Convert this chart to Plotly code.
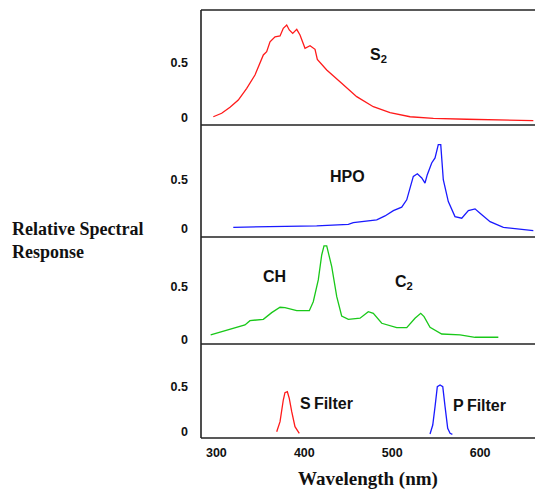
import plotly.graph_objects as go

# ---- data (wavelength nm, relative response) ----
s2_wl = [296.5, 306.0, 315.5, 324.9, 334.5, 343.9, 353.4, 357.2, 361.0, 366.7, 372.4, 376.1, 380.0,
         382.9, 386.8, 391.4, 395.1, 400.8, 406.5, 412.2, 414.8, 425.5, 442.5, 459.6, 478.5, 497.5,
         520.3, 546.8, 584.8, 622.6, 660.5]
s2_val = [0.005, 0.037, 0.092, 0.158, 0.266, 0.387, 0.571, 0.601, 0.692, 0.738, 0.745, 0.815, 0.845,
          0.800, 0.769, 0.806, 0.754, 0.632, 0.656, 0.623, 0.531, 0.433, 0.311, 0.189, 0.097, 0.042,
          0.005, -0.009, -0.018, -0.025, -0.031]

hpo_wl = [319.2, 376.1, 414.1, 450.1, 455.7, 482.4, 491.8, 501.3, 510.8, 516.5, 520.3, 524.0, 528.6,
          533.6, 537.3, 539.9, 544.9, 548.7, 552.4, 555.2, 558.1, 563.8, 571.4, 579.1, 586.6, 594.2,
          599.9, 611.3, 626.4, 641.6, 660.5]
hpo_val = [0.010, 0.017, 0.024, 0.041, 0.058, 0.086, 0.127, 0.182, 0.217, 0.293, 0.431, 0.534, 0.562,
           0.518, 0.466, 0.552, 0.673, 0.725, 0.862, 0.862, 0.500, 0.275, 0.120, 0.104, 0.182, 0.200,
           0.155, 0.068, 0.010, -0.007, -0.025]

ch_wl = [293.5, 311.7, 332.5, 338.2, 353.4, 362.9, 372.4, 378.0, 391.4, 405.7, 410.2, 415.9, 419.8,
         422.4, 425.5, 431.2, 436.9, 442.5, 450.1, 463.4, 472.8, 478.5, 488.1, 505.1, 516.5, 525.9,
         532.4, 536.2, 543.0, 556.3, 577.1, 594.2, 620.7]
ch_val = [0.041, 0.088, 0.136, 0.177, 0.190, 0.253, 0.304, 0.300, 0.272, 0.272, 0.357, 0.564, 0.801,
          0.887, 0.887, 0.690, 0.405, 0.221, 0.190, 0.200, 0.262, 0.247, 0.152, 0.110, 0.110, 0.200,
          0.247, 0.215, 0.114, 0.050, 0.041, 0.019, 0.019]

sf_wl = [368.6, 372.4, 376.1, 378.0, 380.7, 382.9, 385.7, 389.4, 394.3]
sf_val = [0.0, 0.111, 0.352, 0.433, 0.444, 0.370, 0.222, 0.056, -0.018]

pf_wl = [543.0, 546.1, 548.7, 551.3, 554.4, 557.5, 560.1, 563.1, 565.8, 568.4]
pf_val = [-0.026, 0.074, 0.278, 0.500, 0.519, 0.500, 0.278, 0.038, -0.018, -0.029]

x_ticks = [300, 400, 500, 600]
y_ticks = [0, 0.5]
y_ticktext = ["<b>0</b>", "<b>0.5</b>"]

RED = "#ff1a1a"
BLUE = "#1a1aff"
GREEN = "#19c819"

fig = go.Figure()
fig.add_trace(go.Scatter(x=s2_wl, y=s2_val, mode="lines", line=dict(color=RED, width=1.3), yaxis="y4", xaxis="x"))
fig.add_trace(go.Scatter(x=hpo_wl, y=hpo_val, mode="lines", line=dict(color=BLUE, width=1.3), yaxis="y3", xaxis="x"))
fig.add_trace(go.Scatter(x=ch_wl, y=ch_val, mode="lines", line=dict(color=GREEN, width=1.3), yaxis="y2", xaxis="x"))
fig.add_trace(go.Scatter(x=sf_wl, y=sf_val, mode="lines", line=dict(color=RED, width=1.3), yaxis="y", xaxis="x"))
fig.add_trace(go.Scatter(x=pf_wl, y=pf_val, mode="lines", line=dict(color=BLUE, width=1.3), yaxis="y", xaxis="x"))

W, H = 535, 491
ml, mr, mt, mb = 201, 0, 10, 53
ph = H - mt - mb

def frac(py):
    return (H - mb - py) / ph

b1, b2, b3 = frac(125), frac(237), frac(344)

tickfont = dict(family="Arial, Liberation Sans, sans-serif", size=12.5, color="#111")
yax_common = dict(tickvals=y_ticks, ticktext=y_ticktext, showgrid=False, zeroline=False,
                  showline=False, ticks="", tickfont=tickfont, ticklabelstandoff=12, fixedrange=True)

fig.update_layout(
    width=W, height=H,
    margin=dict(l=ml, r=mr, t=mt, b=mb),
    paper_bgcolor="white", plot_bgcolor="white",
    showlegend=False,
    xaxis=dict(range=[282.5, 662.4], tickvals=x_ticks, ticktext=[f"<b>{v}</b>" for v in x_ticks],
               showgrid=False, zeroline=False, showline=False, ticks="", tickfont=tickfont,
               anchor="y", ticklabelstandoff=5,
               title=dict(text="<b>Wavelength (nm)</b>",
                          font=dict(family="Liberation Serif, Times New Roman, serif", size=19, color="#111"),
                          standoff=13)),
    yaxis=dict(domain=[0, b3], range=[-0.07, 0.974], **yax_common),
    yaxis2=dict(domain=[b3, b2], range=[-0.045, 0.972], **yax_common),
    yaxis3=dict(domain=[b2, b1], range=[-0.090, 1.064], **yax_common),
    yaxis4=dict(domain=[b1, 1], range=[-0.0705, 0.983], **yax_common),
)

# panel frame lines
line_style = dict(color="#222", width=1.6)
for yy in [0, b3, b2, b1, 1]:
    fig.add_shape(type="line", xref="paper", yref="paper", x0=0, x1=1, y0=yy, y1=yy, line=line_style)
fig.add_shape(type="line", xref="paper", yref="paper", x0=0, x1=0, y0=0, y1=1, line=line_style)

lab_font = dict(family="Arial, Liberation Sans, sans-serif", size=16, color="#111")

def px_x(px):
    return (px - ml) / (W - ml - mr)

def px_y(py):
    return frac(py)

def label(text, x, y, xanchor="center"):
    fig.add_annotation(text=text, xref="paper", yref="paper", x=px_x(x), y=px_y(y),
                       xanchor=xanchor, yanchor="middle", showarrow=False, font=lab_font)

label("<b>S<sub>2</sub></b>", 378, 56)
label("<b>HPO</b>", 347, 176)
label("<b>CH</b>", 274, 276)
label("<b>C<sub>2</sub></b>", 404, 282)
label("<b>S\u2009Filter</b>", 298, 403, xanchor="left")
label("<b>P\u2009Filter</b>", 451, 405, xanchor="left")

fig.add_annotation(text="<b>Relative Spectral<br>Response</b>", xref="paper", yref="paper",
                   x=px_x(10), y=px_y(240), xanchor="left", yanchor="middle", align="left",
                   showarrow=False,
                   font=dict(family="Liberation Serif, Times New Roman, serif", size=18, color="#111"))

fig.write_html("out.html")
